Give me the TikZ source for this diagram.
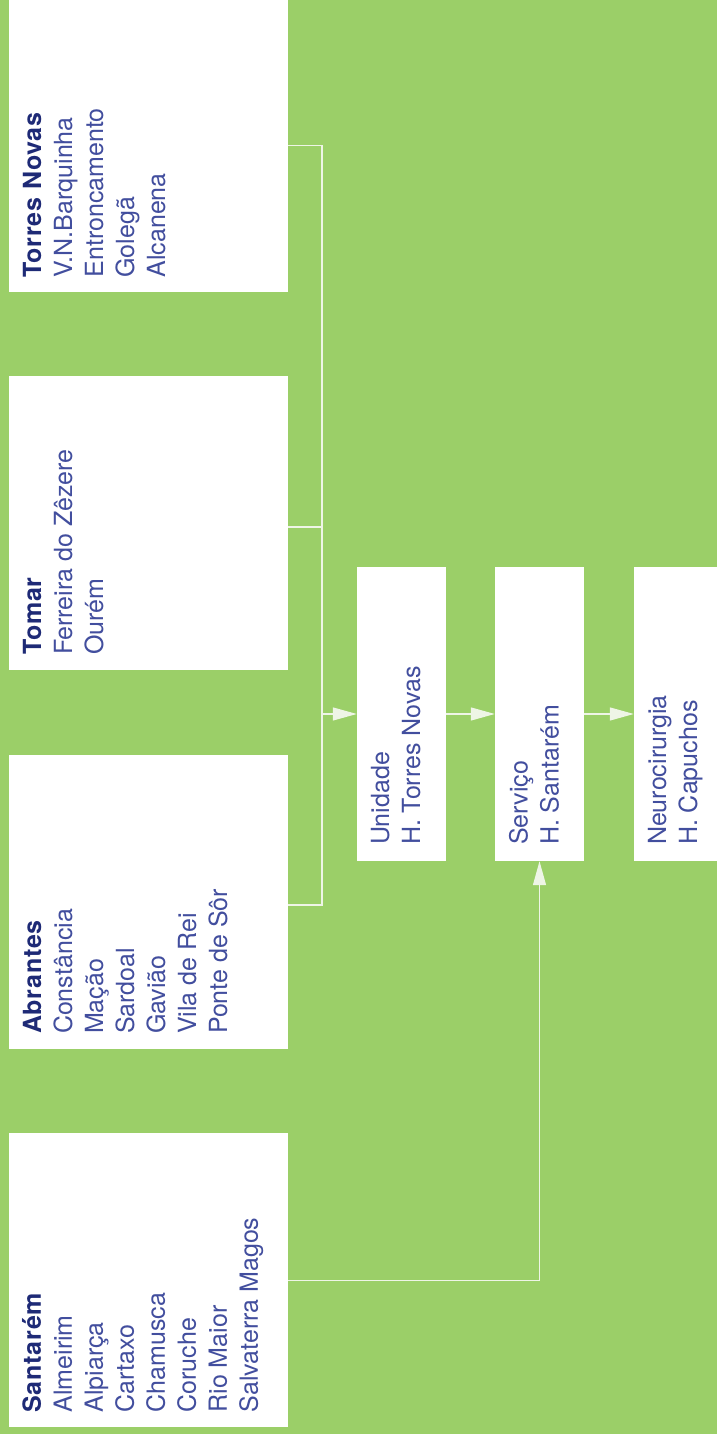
\documentclass[tikz,border=0pt]{standalone}
\usepackage{fontspec}
\setmainfont{TeX Gyre Heros}[BoldFeatures={LetterSpace=3}]
\usetikzlibrary{arrows.meta}
\definecolor{leaf}{RGB}{155,207,104}
\definecolor{ink}{RGB}{66,78,158}
\definecolor{inkdark}{RGB}{30,42,118}
\definecolor{wire}{RGB}{238,245,230}
\tikzset{
    box/.style={rectangle, fill=white, draw=none, minimum width=279pt,
    	minimum height=294pt, inner sep=0pt},
    stage/.style={box, minimum width=89pt},
    lbl/.style={rotate=90, anchor=north west, align=left, inner sep=0pt,
    	text=ink, font=\fontsize{25}{31}\selectfont},
    link/.style={draw=wire, line width=1.3pt},
    flow/.style={link, -{Triangle[length=24pt, width=13pt]}}
}
\newcommand{\hosp}[1]{{\color{inkdark}\bfseries #1}}

\begin{document}
\begin{tikzpicture}[x=1pt, y=1pt]
	\clip (0,0) rectangle (717,1434);
	\fill[leaf] (0,0) rectangle (717,1434);
	% hospitais de origem
	\node[box] (tn) at (148.5,1288.5) {};
	\node[box] (tom) at (148.5,911) {};
	\node[box] (abr) at (148.5,532) {};
	\node[box] (sant) at (148.5,153.5) {};
	\node[lbl] (tntxt) at ([shift={(14pt,15pt)}]tn.south west)
		{\hosp{Torres Novas}\\V.N.Barquinha\\Entroncamento\\Golegã\\Alcanena};
	\node[lbl] (tomtxt) at ([shift={(14pt,15pt)}]tom.south west)
		{\hosp{Tomar}\\Ferreira do Zêzere\\Ourém};
	\node[lbl] (abrtxt) at ([shift={(14pt,15pt)}]abr.south west)
		{\hosp{Abrantes}\\Constância\\Mação\\Sardoal\\Gavião\\Vila de Rei\\Ponte de Sôr};
	\node[lbl] (santtxt) at ([shift={(13pt,15pt)}]sant.south west)
		{\hosp{Santarém}\\Almeirim\\Alpiarça\\Cartaxo\\Chamusca\\Coruche\\Rio Maior\\Salvaterra Magos};
	% encaminhamento
	\node[stage] (unid) at (401.5,720) {};
	\node[stage] (serv) at (539.5,720) {};
	\node[stage] (neuro) at (678.5,720) {};
	\node[lbl] (unidtxt) at ([shift={(14pt,16pt)}]unid.south west) {Unidade\\H. Torres Novas};
	\node[lbl] (servtxt) at ([shift={(14pt,16pt)}]serv.south west) {Serviço\\H. Santarém};
	\node[lbl] (neurotxt) at ([shift={(14pt,16pt)}]neuro.south west) {Neurocirurgia\\H. Capuchos};
	\coordinate (bus) at (322,720);
	\draw[link] (tn.east) -| (bus); \draw[link] (bus) |- ([yshift=-3pt]abr.east);
	\draw[link] ([yshift=-4pt]tom.east) -- ([yshift=-4pt]tom.east -| bus);
	\draw[flow] (bus) -- (unid); \draw[flow] (unid) -- (serv);
	\draw[flow] (serv) -- (neuro); \draw[flow] (sant.east) -| (serv.south);
\end{tikzpicture}
\end{document}
